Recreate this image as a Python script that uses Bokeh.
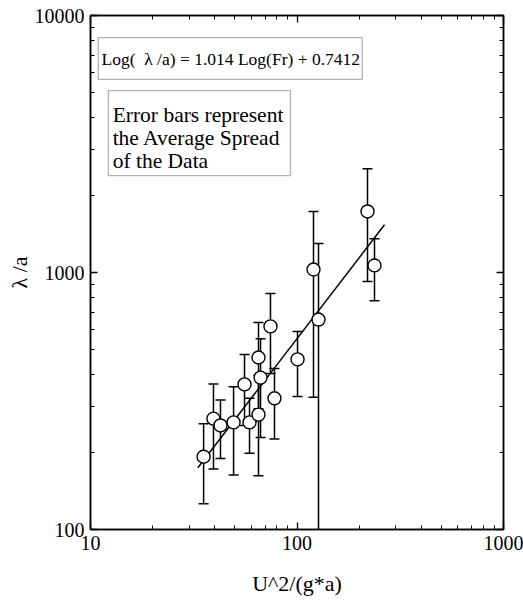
from bokeh.plotting import figure
from bokeh.models import (LogAxis, FixedTicker, BoxAnnotation, Label, Range1d,
                          NumeralTickFormatter)
from bokeh.embed import file_html
from bokeh.resources import INLINE

# ---- data ----
froude = [35.3, 39.4, 42.6, 49.3, 55.7, 58.9, 65.1, 65.1, 66.6, 74.4, 77.8,
          100.6, 120.2, 127.1, 219.5, 237.3]
lam_a = [192, 270, 254, 261, 367, 261, 280, 467, 390, 617, 324,
         459, 1027, 656, 1728, 1065]
spread = [66, 98, 65, 98, 113, 63, 118, 172, 162, 212, 99,
          130, 700, 641, 805, 289]
fit_x = [33.1, 265.3]
fit_y = [174.0, 1533.0]
x_ticks = [10, 100, 1000]
y_ticks = [100, 1000, 10000]
eq_text = "Log(\u00a0\u00a0\u03bb /a) = 1.014 Log(Fr) + 0.7412"
note_text = "Error bars represent\nthe Average Spread\nof the Data"
x_label = "U^2/(g*a)"
y_label = "\u03bb /a"

lower = [v - s for v, s in zip(lam_a, spread)]
upper = [v + s for v, s in zip(lam_a, spread)]

FONT = "Liberation Serif"

p = figure(frame_width=413, frame_height=514,
           x_axis_type="log", y_axis_type="log",
           x_range=Range1d(10, 1000), y_range=Range1d(100, 10000),
           output_backend="svg", toolbar_location=None,
           min_border_left=90, min_border_top=15, min_border_right=20,
           min_border_bottom=70)
p.xgrid.visible = False
p.ygrid.visible = False
p.outline_line_color = "black"
p.outline_line_width = 1.5
p.background_fill_color = "white"
p.border_fill_color = "white"

x_minor = [m * 10 ** k for k in (1, 2) for m in range(2, 10)]
y_minor = [m * 10 ** k for k in (2, 3) for m in range(2, 10)]
xt = FixedTicker(ticks=x_ticks, minor_ticks=x_minor)
yt = FixedTicker(ticks=y_ticks, minor_ticks=y_minor)


def style(ax, show_labels=True):
    ax.axis_line_color = "black"
    ax.axis_line_width = 1.5
    ax.major_tick_in = 7
    ax.major_tick_out = 0
    ax.minor_tick_in = 4
    ax.minor_tick_out = 0
    ax.major_tick_line_width = 1.3
    ax.minor_tick_line_width = 1.0
    ax.major_tick_line_color = "black"
    ax.minor_tick_line_color = "black"
    ax.major_label_text_font = FONT
    ax.major_label_text_color = "black"
    if show_labels:
        ax.major_label_text_font_size = "20px"
    else:
        ax.major_label_text_font_size = "1px"
        ax.major_label_text_alpha = 0
        ax.major_label_standoff = 0


p.xaxis.ticker = xt
p.yaxis.ticker = yt
p.xaxis.formatter = NumeralTickFormatter(format="0")
p.yaxis.formatter = NumeralTickFormatter(format="0")
style(p.xaxis[0])
style(p.yaxis[0])
p.xaxis.major_label_standoff = 6
p.yaxis.major_label_standoff = 6

p.xaxis.axis_label = x_label
p.yaxis.axis_label = y_label
for ax in (p.xaxis[0], p.yaxis[0]):
    ax.axis_label_text_font = FONT
    ax.axis_label_text_font_style = "normal"
    ax.axis_label_text_font_size = "22px"
    ax.axis_label_text_color = "black"
p.xaxis.axis_label_standoff = 18
p.yaxis.axis_label_standoff = 0

top_ax = LogAxis(ticker=xt)
style(top_ax, show_labels=False)
p.add_layout(top_ax, "above")
right_ax = LogAxis(ticker=yt)
style(right_ax, show_labels=False)
p.add_layout(right_ax, "right")

# fit line
p.line(fit_x, fit_y, line_color="black", line_width=1.5)

# error bars
p.segment(x0=froude, y0=lower, x1=froude, y1=upper, line_color="black",
          line_width=1.5)
p.scatter(froude, upper, marker="dash", size=10, line_color="black",
          line_width=1.5)
p.scatter(froude, lower, marker="dash", size=10, line_color="black",
          line_width=1.5)

# points
p.scatter(froude, lam_a, size=13, fill_color="white", line_color="black",
          line_width=1.4)

# equation box
p.add_layout(BoxAnnotation(left=10.9, right=207.0, top=8200, bottom=5640,
                           fill_color="white", fill_alpha=1.0,
                           line_color="black", line_width=1.3))
p.add_layout(Label(x=11.3, y=6800, text=eq_text, text_font=FONT,
                   text_font_size="17.5px", text_baseline="middle",
                   text_color="black"))

# note box
p.add_layout(BoxAnnotation(left=12.2, right=93.0, top=5100, bottom=2384,
                           fill_color="white", fill_alpha=1.0,
                           line_color="black", line_width=1.3))
p.add_layout(Label(x=12.8, y=4550, text=note_text, text_font=FONT,
                   text_font_size="21.5px", text_baseline="top",
                   text_color="black", text_line_height=0.95))

open("out.html", "w").write(file_html(p, INLINE))
